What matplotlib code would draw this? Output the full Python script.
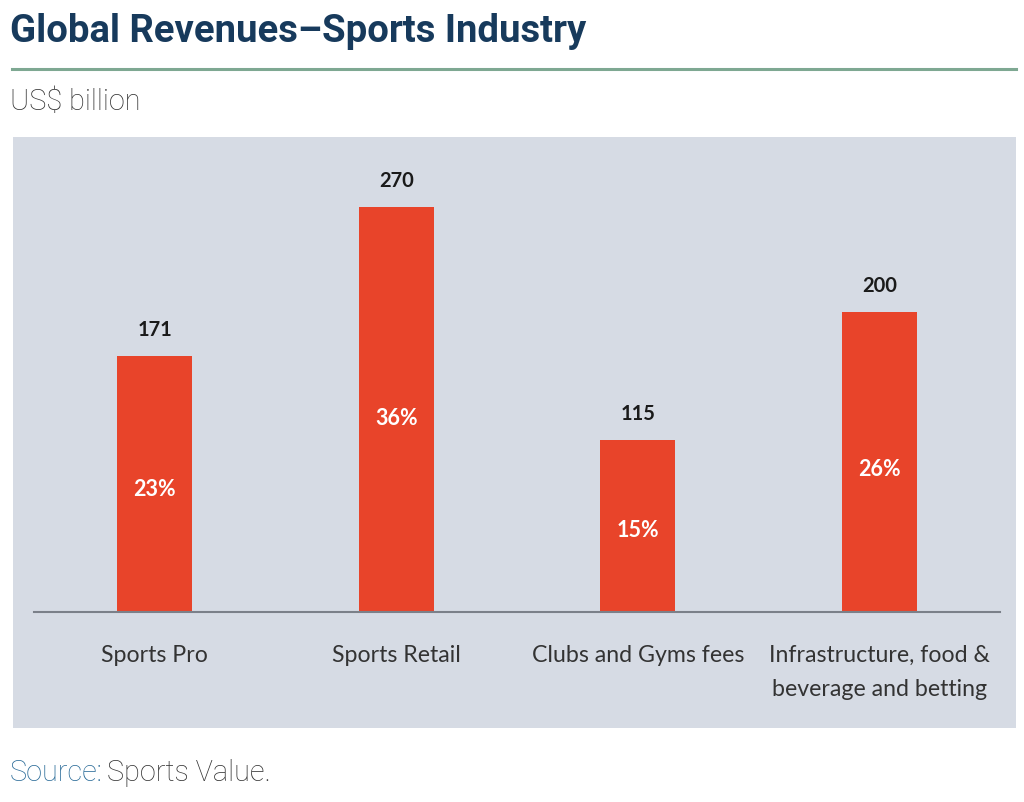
import matplotlib
matplotlib.use("Agg")
import matplotlib.pyplot as plt
from matplotlib.patches import Rectangle
from matplotlib.lines import Line2D

# data
categories = ["Sports Pro", "Sports Retail", "Clubs and Gyms fees",
              "Infrastructure, food &\nbeverage and betting"]
revenues = [171, 270, 115, 200]
shares = ["23%", "36%", "15%", "26%"]

W, H = 1024, 803

def fx(px):
    return px / W

def fy(py):
    return 1 - py / H

fig = plt.figure(figsize=(W / 100, H / 100), dpi=100)
fig.patch.set_facecolor("white")

# title block
fig.text(fx(10), fy(32), "Global Revenues\u2013Sports Industry", family="Roboto",
         weight="bold", fontsize=27.5, color="#173a5c", va="center", ha="left")
fig.add_artist(Line2D([fx(12), fx(1016)], [fy(70), fy(70)], color="#7ea892", lw=2.2))
fig.text(fx(10), fy(102), "US$ billion", family="Roboto", weight="light",
         fontsize=20.8, color="#333333", va="center", ha="left")

# gray panel
fig.add_artist(Rectangle((fx(13), fy(729)), fx(1016) - fx(13), fy(138) - fy(729),
                         transform=fig.transFigure, facecolor="#d6dbe4",
                         edgecolor="none", zorder=0))

# bars
ax = fig.add_axes([fx(34), fy(613), fx(1000) - fx(34), fy(150) - fy(613)])
ax.set_facecolor("none")
x = range(len(categories))
ax.bar(x, revenues, width=0.31, color="#e8442a", zorder=2)
ax.set_xlim(-0.5, 3.5)
ax.set_ylim(0, 270 * (613 - 150) / (613 - 208))

for i, v in enumerate(revenues):
    ax.annotate(str(v), (i, v), xytext=(0, 12), textcoords="offset points",
                ha="center", va="bottom", family="Lato", weight="bold",
                fontsize=14.5, color="#1a1a1a")
    ax.text(i, v * 0.48, shares[i], ha="center", va="center", family="Lato",
            weight="bold", fontsize=15.5, color="white")

for s in ["top", "right", "left"]:
    ax.spines[s].set_visible(False)
ax.spines["bottom"].set_color("#7b8089")
ax.spines["bottom"].set_linewidth(1.5)
ax.set_yticks([])
ax.set_xticks(list(x))
ax.set_xticklabels(categories, family="Lato", fontsize=16.7, color="#333333",
                   linespacing=1.75, va="top")
ax.tick_params(axis="x", length=0, pad=23)

# source
t = fig.text(fx(10), fy(773), "Source:", family="Roboto", weight="light",
             fontsize=20.8, color="#2a6b98", va="center", ha="left")
fig.canvas.draw()
bb = t.get_window_extent()
fig.text(bb.x1 / W + fx(4), fy(773), "Sports Value.", family="Roboto", weight="light",
         fontsize=20.8, color="#333333", va="center", ha="left")

fig.savefig("out.png", dpi=100)
